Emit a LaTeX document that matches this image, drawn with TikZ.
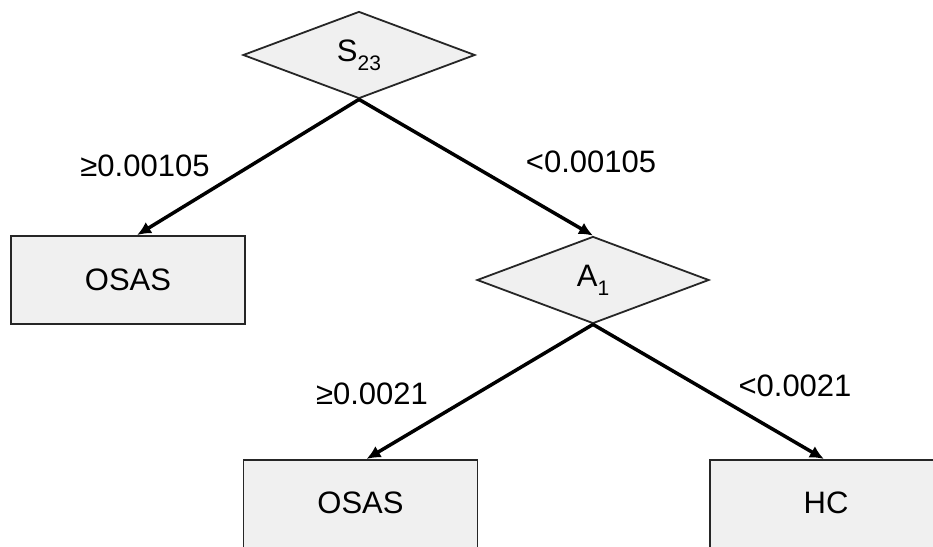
\documentclass[tikz,border=0pt]{standalone}
\usepackage{fontspec}
\setmainfont{Liberation Sans}
\usetikzlibrary{shapes.geometric,arrows.meta}
\newcommand{\subtxt}[1]{\raisebox{-0.3em}{\fontsize{21pt}{21pt}\selectfont #1}}
\begin{document}
\begin{tikzpicture}[x=1pt,y=-1pt,
  every node/.style={font=\fontsize{31pt}{35pt}\selectfont},
  decision/.style={diamond,draw=black!85,line width=1.8pt,fill=black!6,
    minimum width=232pt,minimum height=87pt,inner sep=0pt},
  leaf/.style={rectangle,draw=black!85,line width=1.8pt,fill=black!6,
    minimum width=234pt,minimum height=88pt,inner sep=0pt},
  arr/.style={line width=3.5pt,-{Latex[length=14pt,width=13pt]}},
  lbl/.style={inner sep=0pt}]
\useasboundingbox[fill=white] (0,0) rectangle (933,546);
\clip (0,0) rectangle (933,546);
\node[decision] (s23) at (359,55) {S\subtxt{23}};
\node[leaf] (osas1) at (128,280) {OSAS};
\node[decision] (a1) at (593,280) {A\subtxt{1}};
\node[leaf,minimum height=92pt,anchor=north] (osas2) at (360.5,459) {};
\node (t2) at (360.5,503) {OSAS};
\node[leaf,minimum width=280pt,minimum height=92pt,anchor=north west] (hc) at (709,459) {};
\node (t3) at (826,503) {HC};
\draw[arr] (s23.south) -- ([xshift=9pt]osas1.north);
\draw[arr] (s23.south) -- (a1.north);
\draw[arr] (a1.south) -- ([xshift=6pt]osas2.north);
\draw[arr] (a1.south) -- ([xshift=-26pt]hc.north);
\node[lbl] (l1) at (145,166) {≥0.00105};
\node[lbl] (l2) at (591,162) {<0.00105};
\node[lbl] (l3) at (372,394) {≥0.0021};
\node[lbl] (l4) at (795,386) {<0.0021};
\end{tikzpicture}
\end{document}
